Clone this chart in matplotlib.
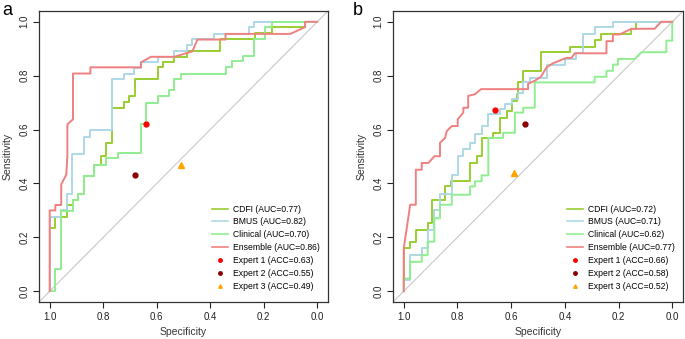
import matplotlib.pyplot as plt
from matplotlib.lines import Line2D

plt.rcParams['font.family'] = ['Liberation Sans', 'DejaVu Sans']

# ---- panel a : ROC points (specificity, sensitivity)
a_cdfi_spec = [1, 1, 0.979, 0.979, 0.934, 0.934, 0.913, 0.913, 0.894, 0.894, 0.872, 0.872, 0.833, 0.833,
               0.808, 0.808, 0.789, 0.789, 0.767, 0.767, 0.723, 0.723, 0.702, 0.702, 0.681, 0.681,
               0.597, 0.597, 0.578, 0.578, 0.535, 0.535, 0.488, 0.488, 0.362, 0.362, 0.232, 0.232,
               0.17, 0.17, 0.046, 0.046, 0]
a_cdfi_sens = [0, 0.234, 0.234, 0.277, 0.277, 0.32, 0.32, 0.34, 0.34, 0.36, 0.36, 0.426, 0.426, 0.47,
               0.47, 0.501, 0.501, 0.551, 0.551, 0.681, 0.681, 0.704, 0.704, 0.725, 0.725, 0.787,
               0.787, 0.831, 0.831, 0.849, 0.849, 0.87, 0.87, 0.893, 0.893, 0.937, 0.937, 0.958,
               0.958, 0.98, 0.98, 1.0, 1.0]

a_bmus_spec = [1, 1, 0.957, 0.957, 0.934, 0.934, 0.915, 0.915, 0.872, 0.872, 0.848, 0.848, 0.767, 0.767,
               0.723, 0.723, 0.684, 0.684, 0.659, 0.659, 0.597, 0.597, 0.535, 0.535, 0.488, 0.488,
               0.467, 0.467, 0.387, 0.387, 0.257, 0.257, 0.238, 0.238, 0]
a_bmus_sens = [0, 0.277, 0.277, 0.30, 0.30, 0.36, 0.36, 0.51, 0.51, 0.572, 0.572, 0.597, 0.597, 0.787,
               0.787, 0.808, 0.808, 0.83, 0.83, 0.849, 0.849, 0.868, 0.868, 0.893, 0.893, 0.915,
               0.915, 0.937, 0.937, 0.955, 0.955, 0.98, 0.98, 1.0, 1.0]

a_clin_spec = [1, 0.981, 0.981, 0.957, 0.957, 0.913, 0.913, 0.894, 0.894, 0.872, 0.872, 0.833, 0.833,
               0.789, 0.789, 0.746, 0.746, 0.659, 0.659, 0.641, 0.641, 0.597, 0.597, 0.554, 0.554,
               0.535, 0.535, 0.51, 0.51, 0.343, 0.343, 0.318, 0.318, 0.277, 0.277, 0.236, 0.236,
               0.194, 0.194, 0.17, 0.17, 0]
a_clin_sens = [0, 0, 0.084, 0.084, 0.298, 0.298, 0.34, 0.34, 0.36, 0.36, 0.426, 0.426, 0.467, 0.467,
               0.495, 0.495, 0.513, 0.513, 0.619, 0.619, 0.70, 0.70, 0.725, 0.725, 0.746, 0.746,
               0.787, 0.787, 0.806, 0.806, 0.831, 0.831, 0.853, 0.853, 0.872, 0.872, 0.937, 0.937,
               0.98, 0.98, 1.0, 1.0]

a_ens_spec = [1, 1, 0.979, 0.979, 0.957, 0.957, 0.938, 0.934, 0.934, 0.913, 0.913, 0.848, 0.848,
              0.659, 0.659, 0.622, 0.535, 0.467, 0.448, 0.343, 0.343, 0.101, 0.046, 0.046, 0]
a_ens_sens = [0, 0.30, 0.30, 0.32, 0.32, 0.396, 0.433, 0.50, 0.619, 0.638, 0.808, 0.808, 0.831,
              0.831, 0.849, 0.87, 0.87, 0.89, 0.934, 0.934, 0.955, 0.955, 0.98, 1.0, 1.0]

a_aucs = [0.77, 0.82, 0.70, 0.86]
a_exp_spec = [0.641, 0.681, 0.511]
a_exp_sens = [0.619, 0.430, 0.470]
a_accs = [0.63, 0.55, 0.49]

# ---- panel b
b_cdfi_spec = [1, 1, 0.976, 0.976, 0.955, 0.955, 0.911, 0.911, 0.893, 0.893, 0.846, 0.846, 0.824, 0.824,
               0.753, 0.753, 0.729, 0.729, 0.71, 0.71, 0.667, 0.667, 0.642, 0.642, 0.617, 0.617,
               0.598, 0.598, 0.58, 0.58, 0.574, 0.574, 0.555, 0.555, 0.489, 0.489, 0.382, 0.382,
               0.289, 0.289, 0.266, 0.266, 0.152, 0.152, 0.134, 0.134, 0]
b_cdfi_sens = [0, 0.159, 0.159, 0.184, 0.184, 0.228, 0.228, 0.252, 0.252, 0.34, 0.34, 0.389, 0.389, 0.408,
               0.408, 0.476, 0.476, 0.501, 0.501, 0.569, 0.569, 0.588, 0.588, 0.644, 0.644, 0.669,
               0.669, 0.706, 0.706, 0.731, 0.731, 0.775, 0.775, 0.818, 0.818, 0.887, 0.887, 0.908,
               0.908, 0.933, 0.933, 0.955, 0.955, 0.974, 0.974, 1.0, 1.0]

b_bmus_spec = [1, 1, 0.976, 0.976, 0.933, 0.933, 0.911, 0.911, 0.886, 0.886, 0.865, 0.865, 0.821, 0.821,
               0.797, 0.797, 0.778, 0.778, 0.753, 0.753, 0.735, 0.735, 0.71, 0.71, 0.685, 0.685,
               0.642, 0.642, 0.623, 0.623, 0.598, 0.598, 0.574, 0.574, 0.555, 0.555, 0.53, 0.53,
               0.465, 0.465, 0.40, 0.40, 0.357, 0.357, 0.332, 0.332, 0.289, 0.289, 0.221, 0.221, 0]
b_bmus_sens = [0, 0.04, 0.04, 0.134, 0.134, 0.159, 0.159, 0.228, 0.228, 0.30, 0.30, 0.36, 0.36, 0.433,
               0.433, 0.501, 0.501, 0.526, 0.526, 0.551, 0.551, 0.582, 0.582, 0.613, 0.613, 0.657,
               0.657, 0.675, 0.675, 0.694, 0.694, 0.713, 0.713, 0.737, 0.737, 0.778, 0.778, 0.793,
               0.793, 0.841, 0.841, 0.862, 0.862, 0.883, 0.883, 0.955, 0.955, 0.98, 0.98, 1.0, 1.0]

b_clin_spec = [1, 1, 0.976, 0.976, 0.933, 0.933, 0.911, 0.911, 0.886, 0.886, 0.865, 0.865, 0.821, 0.821,
               0.753, 0.753, 0.735, 0.735, 0.71, 0.71, 0.685, 0.685, 0.63, 0.63, 0.586, 0.586,
               0.555, 0.555, 0.512, 0.512, 0.289, 0.289, 0.245, 0.245, 0.221, 0.221, 0.202, 0.202,
               0.14, 0.115, 0.022, 0.022, 0, 0]
b_clin_sens = [0, 0.047, 0.047, 0.109, 0.109, 0.134, 0.134, 0.184, 0.184, 0.271, 0.271, 0.321, 0.321,
               0.358, 0.358, 0.389, 0.389, 0.408, 0.408, 0.43, 0.43, 0.569, 0.569, 0.588, 0.588,
               0.663, 0.663, 0.681, 0.681, 0.775, 0.775, 0.796, 0.796, 0.818, 0.818, 0.841, 0.841,
               0.862, 0.862, 0.887, 0.887, 0.93, 0.93, 1.0]

b_ens_spec = [1, 1, 0.976, 0.955, 0.955, 0.933, 0.933, 0.908, 0.886, 0.865, 0.865, 0.846, 0.84, 0.821,
              0.799, 0.799, 0.778, 0.778, 0.76, 0.76, 0.735, 0.712, 0.537, 0.537, 0.512, 0.489,
              0.468, 0.444, 0.419, 0.394, 0.375, 0.363, 0.245, 0.245, 0.221, 0.221, 0.196, 0.152,
              0.066, 0.041, 0]
b_ens_sens = [0, 0.159, 0.321, 0.321, 0.451, 0.451, 0.476, 0.476, 0.501, 0.501, 0.551, 0.569, 0.594,
              0.613, 0.613, 0.638, 0.663, 0.681, 0.681, 0.725, 0.731, 0.75, 0.75, 0.77, 0.781, 0.796,
              0.831, 0.846, 0.856, 0.866, 0.866, 0.883, 0.883, 0.928, 0.928, 0.953, 0.953, 0.974,
              0.974, 1.0, 1.0]

b_aucs = [0.72, 0.71, 0.62, 0.77]
b_exp_spec = [0.659, 0.549, 0.590]
b_exp_sens = [0.672, 0.619, 0.440]
b_accs = [0.66, 0.58, 0.52]

model_names = ['CDFI', 'BMUS', 'Clinical', 'Ensemble']
model_colors = ['#9ACD32', '#ADD8E6', '#90EE90', '#F08080']
expert_names = ['Expert 1', 'Expert 2', 'Expert 3']
expert_colors = ['#FF0000', '#8B0000', '#FFA500']
expert_markers = ['o', 'o', '^']
ticks = [1.0, 0.8, 0.6, 0.4, 0.2, 0.0]


def draw_panel(ax, curves, aucs, exp_spec, exp_sens, accs, leg_x):
    ax.axline((1, 0), (0, 1), color='#C8C8C8', lw=0.8, zorder=1)
    handles = []
    for (spec, sens), name, col, auc in zip(curves, model_names, model_colors, aucs):
        ax.plot(spec, sens, color=col, lw=1.4, zorder=2)
        handles.append(Line2D([], [], color=col, lw=1.2,
                              label='%s (AUC=%.2f)' % (name, auc)))
    for i in range(3):
        ms = 4 if expert_markers[i] == '^' else 3.5
        ax.plot(exp_spec[i], exp_sens[i], marker=expert_markers[i], color=expert_colors[i],
                ms=ms, ls='none', zorder=3)
        handles.append(Line2D([], [], marker=expert_markers[i], color=expert_colors[i],
                              ms=2.5, ls='none',
                              label='%s (ACC=%.2f)' % (expert_names[i], accs[i])))
    ax.set_xlim(1.04, -0.04)
    ax.set_ylim(-0.04, 1.04)
    ax.set_xticks(ticks)
    ax.set_xticklabels(['%.1f' % t for t in ticks])
    ax.set_yticks(ticks)
    ax.set_yticklabels(['%.1f' % t for t in ticks])
    ax.tick_params(direction='out', length=4, width=0.8, labelsize=7, pad=3,
                   colors='#222222')
    ax.tick_params(axis='y', labelrotation=90)
    for lab in ax.get_yticklabels():
        lab.set_va('center')
    for sp in ax.spines.values():
        sp.set_linewidth(0.9)
        sp.set_color('#333333')
    ax.set_xlabel('Specificity', fontsize=7.5, labelpad=4, color='#333333')
    ax.set_ylabel('Sensitivity', fontsize=7.5, labelpad=5, color='#333333')
    ax.legend(handles=handles, loc='upper left', bbox_to_anchor=(leg_x, 0.335),
              frameon=False, fontsize=6.2, handlelength=1.85, handletextpad=0.6,
              labelspacing=0.45, borderpad=0, borderaxespad=0, markerscale=1)


fig = plt.figure(figsize=(6.85, 3.39), dpi=100)
ax_a = fig.add_axes([39 / 685, 37 / 339, 289 / 685, 291 / 339])
ax_b = fig.add_axes([393 / 685, 37 / 339, 290 / 685, 291 / 339])

draw_panel(ax_a, [(a_cdfi_spec, a_cdfi_sens), (a_bmus_spec, a_bmus_sens),
                  (a_clin_spec, a_clin_sens), (a_ens_spec, a_ens_sens)],
           a_aucs, a_exp_spec, a_exp_sens, a_accs, 0.598)
draw_panel(ax_b, [(b_cdfi_spec, b_cdfi_sens), (b_bmus_spec, b_bmus_sens),
                  (b_clin_spec, b_clin_sens), (b_ens_spec, b_ens_sens)],
           b_aucs, b_exp_spec, b_exp_sens, b_accs, 0.601)

fig.text(0.004, 0.995, 'a', fontsize=13, va='top', ha='left')
fig.text(0.515, 0.995, 'b', fontsize=13, va='top', ha='left')

fig.savefig('out.png', dpi=100)
